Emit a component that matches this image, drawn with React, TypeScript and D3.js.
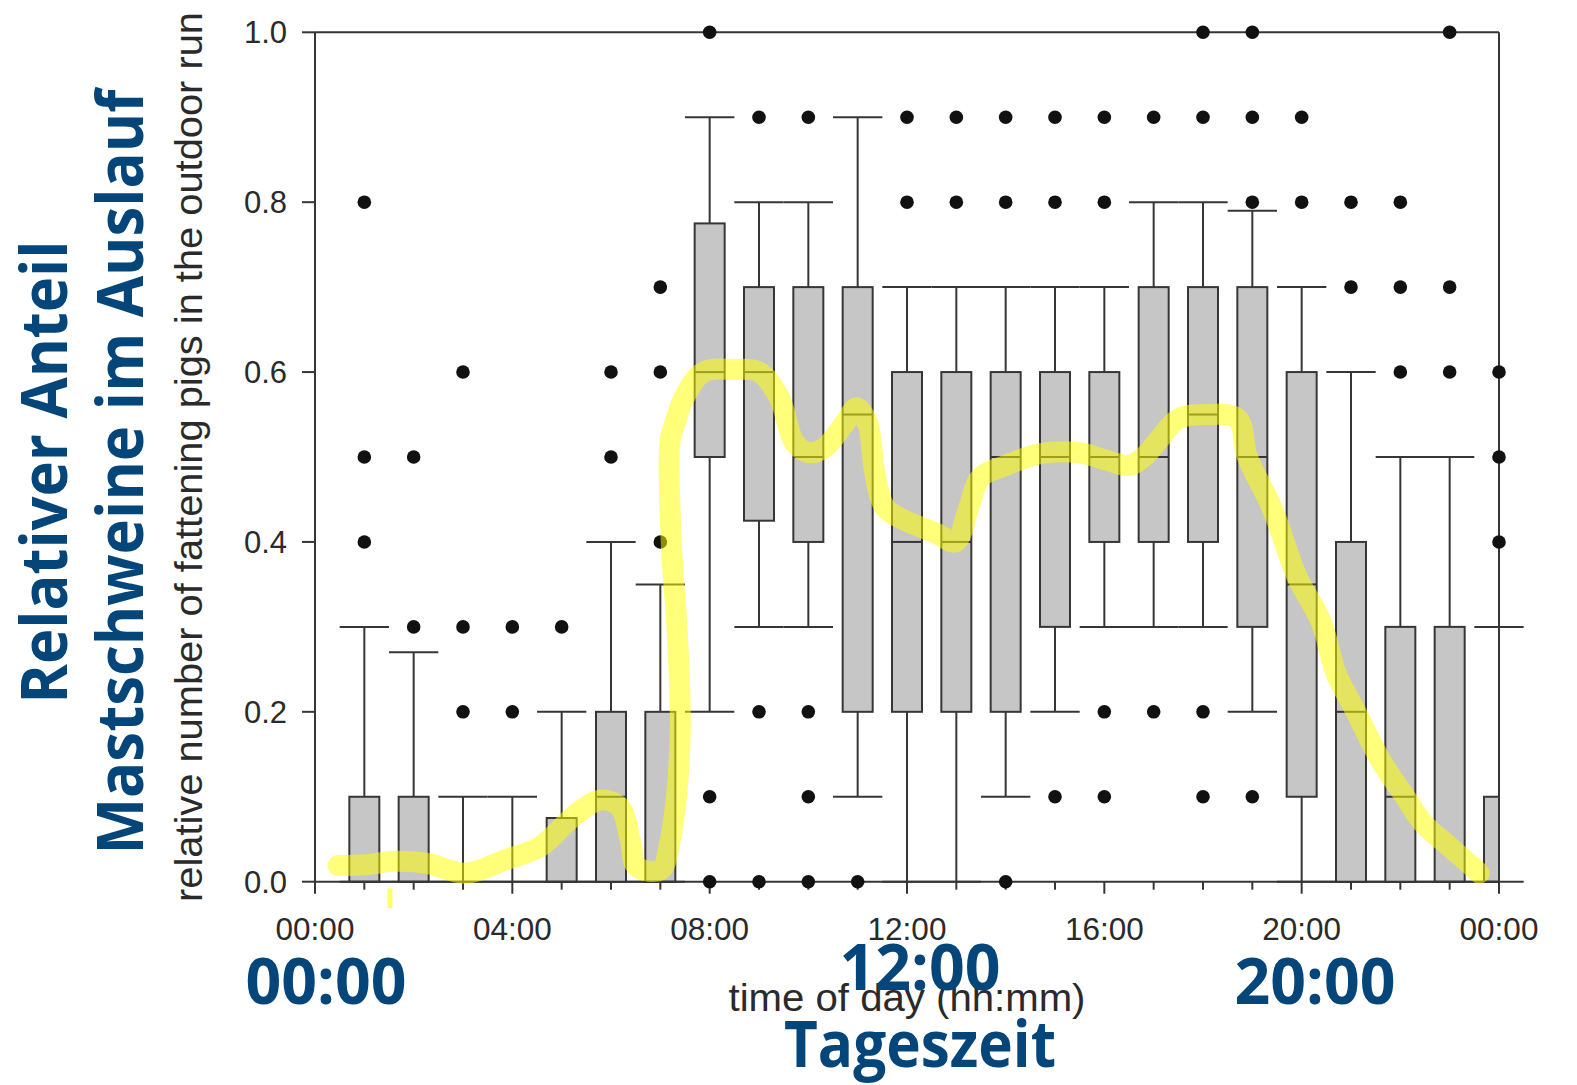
import React from 'react';
import * as d3 from 'd3';

// ---- data ----
const hours = [1, 2, 3, 4, 5, 6, 7, 8, 9, 10, 11, 12, 13, 14, 15, 16, 17, 18, 19, 20, 21, 22, 23, 24];
const whiskerLow = [0, 0, 0, 0, 0, 0, 0, 0.2, 0.3, 0.3, 0.1, 0, 0, 0.1, 0.2, 0.3, 0.3, 0.3, 0.2, 0, 0, 0, 0, 0];
const q1 = [0, 0, 0, 0, 0, 0, 0, 0.5, 0.425, 0.4, 0.2, 0.2, 0.2, 0.2, 0.3, 0.4, 0.4, 0.4, 0.3, 0.1, 0, 0, 0, 0];
const median = [0, 0, 0, 0, 0, 0.1, 0, 0.6, 0.6, 0.5, 0.55, 0.4, 0.4, 0.5, 0.5, 0.5, 0.5, 0.55, 0.5, 0.35, 0.2, 0.1, 0, 0];
const q3 = [0.1, 0.1, 0, 0, 0.075, 0.2, 0.2, 0.775, 0.7, 0.7, 0.7, 0.6, 0.6, 0.6, 0.6, 0.6, 0.7, 0.7, 0.7, 0.6, 0.4, 0.3, 0.3, 0.1];
const whiskerHigh = [0.3, 0.27, 0.1, 0.1, 0.2, 0.4, 0.35, 0.9, 0.8, 0.8, 0.9, 0.7, 0.7, 0.7, 0.7, 0.7, 0.8, 0.8, 0.79, 0.7, 0.6, 0.5, 0.5, 0.3];
const outliers = [
  [0.4, 0.5, 0.8],
  [0.3, 0.5],
  [0.2, 0.3, 0.6],
  [0.2, 0.3],
  [0.3],
  [0.5, 0.6],
  [0.4, 0.6, 0.7],
  [0, 0.1, 1.0],
  [0, 0.2, 0.9],
  [0, 0.1, 0.2, 0.9],
  [0],
  [0.8, 0.9],
  [0.8, 0.9],
  [0, 0.8, 0.9],
  [0.1, 0.8, 0.9],
  [0.1, 0.2, 0.8, 0.9],
  [0.2, 0.9],
  [0.1, 0.2, 0.9, 1.0],
  [0.1, 0.8, 0.9, 1.0],
  [0.8, 0.9],
  [0.7, 0.8],
  [0.6, 0.7, 0.8],
  [0.6, 0.7, 1.0],
  [0.4, 0.5, 0.6],
];

const yTicks = [0, 0.2, 0.4, 0.6, 0.8, 1.0];
const xTickHours = [0, 1, 2, 3, 4, 5, 6, 7, 8, 9, 10, 11, 12, 13, 14, 15, 16, 17, 18, 19, 20, 21, 22, 23, 24];
const xLabelHours = [0, 4, 8, 12, 16, 20, 24];
const xLabels = ['00:00', '04:00', '08:00', '12:00', '16:00', '20:00', '00:00'];

// hand-drawn yellow highlight (hour, value)
const yellowHours = [0.47, 1.05, 1.58, 2.25, 3.06, 3.87, 4.56, 5.24, 5.78, 6.18, 6.39, 6.52, 7.0, 7.2, 7.4, 7.35, 7.22, 7.2, 7.3, 7.46, 7.87, 8.47, 9.0, 9.41, 9.72, 10.03, 10.33, 10.74, 10.98, 11.2, 11.35, 11.56, 11.97, 12.6, 12.98, 13.25, 13.49, 14.0, 14.7, 15.5, 16.05, 16.5, 16.8, 17.1, 17.5, 18.1, 18.7, 18.9, 19.4, 19.9, 20.4, 20.7, 21.1, 21.6, 22.05, 22.46, 23.0, 23.47, 23.6];
const yellowValues = [0.019, 0.02, 0.024, 0.022, 0.01, 0.026, 0.041, 0.077, 0.096, 0.088, 0.049, 0.018, 0.014, 0.049, 0.167, 0.285, 0.402, 0.52, 0.54, 0.567, 0.6, 0.603, 0.6, 0.57, 0.517, 0.505, 0.511, 0.54, 0.558, 0.54, 0.48, 0.44, 0.425, 0.41, 0.40, 0.44, 0.476, 0.49, 0.504, 0.505, 0.496, 0.49, 0.50, 0.52, 0.545, 0.55, 0.545, 0.5, 0.44, 0.36, 0.305, 0.245, 0.2, 0.143, 0.104, 0.069, 0.041, 0.017, 0.01];
const yellowMarkHour = [1.52, 1.52];
const yellowMarkValue = [-0.008, -0.031];

const yTitle = 'relative number of fattening pigs in the outdoor run';
const xTitle = 'time of day (hh:mm)';

export default function App() {
  const W = 1577;
  const H = 1085;
  const x = d3.scaleLinear().domain([0, 24]).range([315, 1499]);
  const y = d3.scaleLinear().domain([0, 1]).range([881.7, 32.3]);
  const boxHalf = 15;
  const capHalf = (x(1) - x(0)) / 2;
  const xMax = x(24);
  const ink = '#363636';
  const txt = '#2a2a2a';
  const blue = '#05467a';
  const fmt = d3.format('.1f');

  const yellowLine = d3
    .line<number>()
    .x((_, i) => x(yellowHours[i]))
    .y((d) => y(d))
    .curve(d3.curveCatmullRom.alpha(0.5));
  const markLine = d3
    .line<number>()
    .x((_, i) => x(yellowMarkHour[i]))
    .y((d) => y(d));

  return (
    <svg
      width={W}
      height={H}
      viewBox={`0 0 ${W} ${H}`}
      style={{ position: 'absolute', left: 0, top: 0, background: '#fff' }}
    >
      <rect x={0} y={0} width={W} height={H} fill="#fff" />

      {/* frame */}
      <line x1={x(0)} x2={x(0)} y1={y(1)} y2={y(0)} stroke={ink} strokeWidth={2} />
      <line x1={x(0)} x2={xMax} y1={y(0)} y2={y(0)} stroke={ink} strokeWidth={2} />
      <line x1={x(0)} x2={xMax} y1={y(1)} y2={y(1)} stroke={ink} strokeWidth={2} />
      <line x1={xMax} x2={xMax} y1={y(1)} y2={y(0)} stroke={ink} strokeWidth={2} />

      {/* y ticks */}
      {yTicks.map((t) => (
        <g key={'yt' + t}>
          <line x1={x(0) - 13} x2={x(0)} y1={y(t)} y2={y(t)} stroke={ink} strokeWidth={2} />
          <text
            x={287}
            y={y(t) + 11}
            textAnchor="end"
            fontFamily="'Liberation Sans', Arial, sans-serif"
            fontSize={31}
            fill={txt}
          >
            {fmt(t)}
          </text>
        </g>
      ))}

      {/* x ticks */}
      {xTickHours.map((h) => (
        <line
          key={'xt' + h}
          x1={x(h)}
          x2={x(h)}
          y1={y(0)}
          y2={y(0) + (h % 4 === 0 ? 12 : 8)}
          stroke={ink}
          strokeWidth={2}
        />
      ))}
      {xLabelHours.map((h, i) => (
        <text
          key={'xl' + i}
          x={x(h)}
          y={940}
          textAnchor="middle"
          fontFamily="'Liberation Sans', Arial, sans-serif"
          fontSize={31.5}
          fill={txt}
        >
          {xLabels[i]}
        </text>
      ))}

      {/* boxes */}
      {hours.map((h, i) => {
        const xc = x(h);
        const left = xc - boxHalf;
        const right = Math.min(xc + boxHalf, xMax);
        return (
          <g key={'b' + h}>
            <line x1={xc} x2={xc} y1={y(q3[i])} y2={y(whiskerHigh[i])} stroke={ink} strokeWidth={2} />
            <line x1={xc - capHalf} x2={xc + capHalf} y1={y(whiskerHigh[i])} y2={y(whiskerHigh[i])} stroke={ink} strokeWidth={2} />
            <line x1={xc} x2={xc} y1={y(q1[i])} y2={y(whiskerLow[i])} stroke={ink} strokeWidth={2} />
            <line x1={xc - capHalf} x2={xc + capHalf} y1={y(whiskerLow[i])} y2={y(whiskerLow[i])} stroke={ink} strokeWidth={2} />
            {q3[i] > q1[i] && (
              <rect
                x={left}
                y={y(q3[i])}
                width={right - left}
                height={y(q1[i]) - y(q3[i])}
                fill="#c6c6c6"
                stroke={ink}
                strokeWidth={2}
              />
            )}
            {q3[i] > q1[i] && (
              <line x1={left} x2={right} y1={y(median[i])} y2={y(median[i])} stroke={ink} strokeWidth={2} />
            )}
          </g>
        );
      })}

      {/* outliers */}
      {hours.map((h, i) =>
        outliers[i].map((v, j) => (
          <circle key={'o' + h + '_' + j} cx={x(h)} cy={y(v)} r={6.8} fill="#111" />
        ))
      )}

      {/* yellow hand-drawn highlight */}
      <path
        d={yellowLine(yellowValues) || ''}
        fill="none"
        stroke="#ffff00"
        strokeOpacity={0.52}
        strokeWidth={21}
        strokeLinecap="round"
        strokeLinejoin="round"
      />
      <path
        d={markLine(yellowMarkValue) || ''}
        fill="none"
        stroke="#ffff00"
        strokeOpacity={0.6}
        strokeWidth={5}
      />

      {/* axis titles */}
      <text
        transform="translate(202,457) rotate(-90)"
        textAnchor="middle"
        fontFamily="'Liberation Sans', Arial, sans-serif"
        fontSize={39}
        fill={txt}
        textLength={890}
        lengthAdjust="spacingAndGlyphs"
      >
        {yTitle}
      </text>
      <text
        x={907}
        y={1011}
        textAnchor="middle"
        fontFamily="'Liberation Sans', Arial, sans-serif"
        fontSize={38}
        fill={txt}
        textLength={357}
        lengthAdjust="spacingAndGlyphs"
      >
        {xTitle}
      </text>

      {/* blue German annotations */}
      <g fontFamily="'Open Sans', 'Noto Sans', sans-serif" fontWeight={700} fill={blue} fontSize={64}>
        <text x={326} y={1004} textAnchor="middle" textLength={161} lengthAdjust="spacingAndGlyphs">00:00</text>
        <text x={920} y={990} textAnchor="middle" textLength={161} lengthAdjust="spacingAndGlyphs">12:00</text>
        <text x={1315} y={1004} textAnchor="middle" textLength={161} lengthAdjust="spacingAndGlyphs">20:00</text>
        <text x={920} y={1067} textAnchor="middle" textLength={272} lengthAdjust="spacingAndGlyphs">Tageszeit</text>
        <text transform="translate(67,472) rotate(-90)" textAnchor="middle" textLength={463} lengthAdjust="spacingAndGlyphs">
          Relativer Anteil
        </text>
        <text transform="translate(143,472) rotate(-90)" textAnchor="middle" textLength={765} lengthAdjust="spacingAndGlyphs">
          Mastschweine im Auslauf
        </text>
      </g>
    </svg>
  );
}
